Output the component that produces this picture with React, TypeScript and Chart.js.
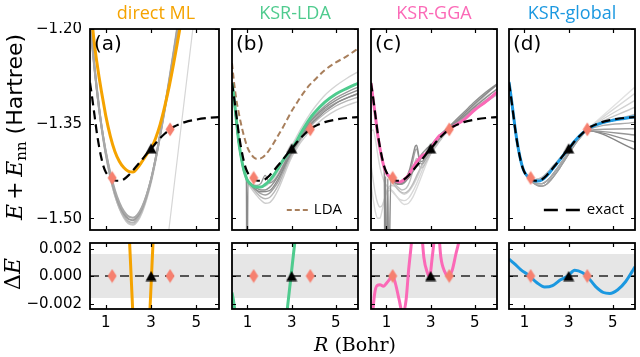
import React, { useEffect, useRef } from "react";
import { Chart, registerables } from "chart.js";
Chart.register(...registerables);

// ---------------- data ----------------
const R = [0.3, 0.4, 0.5, 0.6, 0.7, 0.8, 0.9, 1.0, 1.2, 1.4, 1.6, 1.8, 2.0, 2.2, 2.4, 2.6, 2.8, 3.0, 3.2, 3.4, 3.6, 3.8, 4.0, 4.5, 5.0, 5.5, 6.0];
const exactE = [-1.285, -1.31, -1.337, -1.364, -1.386, -1.404, -1.418, -1.427, -1.4355, -1.44, -1.4405, -1.438, -1.432, -1.424, -1.4155, -1.407, -1.398, -1.39, -1.381, -1.373, -1.366, -1.36, -1.355, -1.3475, -1.3435, -1.341, -1.3395];
const directMLE = [-1.13, -1.19, -1.225, -1.252, -1.276, -1.298, -1.318, -1.338, -1.37, -1.394, -1.41, -1.42, -1.4255, -1.4265, -1.42, -1.41, -1.399, -1.3895, -1.373, -1.351, -1.323, -1.291, -1.254, -1.15, -1.03, -0.9, -0.76];
const ksrLdaE = [-1.286, -1.312, -1.345, -1.377, -1.4, -1.418, -1.431, -1.44, -1.4475, -1.4505, -1.4505, -1.4465, -1.44, -1.431, -1.42, -1.4085, -1.3995, -1.39, -1.379, -1.366, -1.354, -1.343, -1.334, -1.316, -1.303, -1.294, -1.286];
const ldaE = [-1.254, -1.287, -1.313, -1.332, -1.349, -1.364, -1.377, -1.388, -1.4, -1.4055, -1.405, -1.4, -1.391, -1.38, -1.368, -1.356, -1.343, -1.33, -1.319, -1.308, -1.298, -1.289, -1.282, -1.265, -1.253, -1.243, -1.231];
const ksrGgaE = [-1.286, -1.312, -1.338, -1.367, -1.388, -1.406, -1.42, -1.4285, -1.4355, -1.4405, -1.4425, -1.4385, -1.4315, -1.419, -1.409, -1.401, -1.397, -1.39, -1.378, -1.369, -1.365, -1.36, -1.355, -1.344, -1.328, -1.315, -1.3];
const ksrGlobalE = [-1.2838, -1.309, -1.336, -1.3632, -1.3854, -1.4035, -1.4177, -1.4268, -1.4355, -1.4403, -1.441, -1.4388, -1.4328, -1.4248, -1.4161, -1.4073, -1.3981, -1.39, -1.3806, -1.3727, -1.3658, -1.36, -1.3555, -1.3487, -1.3447, -1.3417, -1.339];

// gray ensemble curves, panel (a)
const grayA1 = [-1.185, -1.225, -1.262, -1.295, -1.325, -1.352, -1.375, -1.396, -1.431, -1.459, -1.479, -1.493, -1.501, -1.503, -1.497, -1.484, -1.464, -1.438, -1.405, -1.367, -1.326, -1.283, -1.238, -1.12, -1.0, -0.87, -0.74];
const grayA2 = [-1.183, -1.223, -1.261, -1.295, -1.326, -1.354, -1.378, -1.399, -1.435, -1.463, -1.483, -1.497, -1.505, -1.507, -1.501, -1.487, -1.466, -1.439, -1.405, -1.366, -1.324, -1.28, -1.234, -1.115, -0.99, -0.86, -0.73];
const grayA3 = [-1.188, -1.228, -1.264, -1.297, -1.326, -1.352, -1.374, -1.394, -1.428, -1.455, -1.475, -1.489, -1.497, -1.499, -1.494, -1.482, -1.463, -1.438, -1.406, -1.369, -1.329, -1.287, -1.243, -1.125, -1.0, -0.87, -0.74];
const grayA4 = [-1.18, -1.22, -1.258, -1.292, -1.323, -1.351, -1.376, -1.398, -1.434, -1.462, -1.484, -1.499, -1.508, -1.51, -1.504, -1.49, -1.469, -1.442, -1.408, -1.369, -1.327, -1.283, -1.237, -1.118, -0.99, -0.86, -0.73];
const grayAfarR = [3.6, 4.2, 4.9];
const grayAfarE = [-1.574, -1.393, -1.183];

// panel (b)
const grayB1 = [-1.288, -1.316, -1.35, -1.38, -1.402, -1.419, -1.431, -1.439, -1.447, -1.452, -1.455, -1.455, -1.451, -1.443, -1.432, -1.419, -1.405, -1.392, -1.381, -1.37, -1.359, -1.349, -1.341, -1.325, -1.313, -1.304, -1.297];
const grayB2 = [-1.288, -1.316, -1.35, -1.38, -1.402, -1.419, -1.431, -1.44, -1.449, -1.456, -1.461, -1.463, -1.46, -1.452, -1.441, -1.426, -1.41, -1.396, -1.384, -1.373, -1.362, -1.352, -1.344, -1.328, -1.317, -1.309, -1.303];
const grayB3 = [-1.289, -1.317, -1.351, -1.381, -1.403, -1.42, -1.432, -1.441, -1.451, -1.459, -1.466, -1.469, -1.467, -1.459, -1.447, -1.431, -1.414, -1.399, -1.387, -1.376, -1.366, -1.357, -1.349, -1.334, -1.322, -1.314, -1.308];
const grayB4 = [-1.289, -1.318, -1.352, -1.382, -1.404, -1.421, -1.434, -1.443, -1.454, -1.463, -1.471, -1.476, -1.475, -1.467, -1.454, -1.437, -1.419, -1.403, -1.391, -1.38, -1.371, -1.362, -1.355, -1.34, -1.329, -1.321, -1.315];
const grayB5 = [-1.288, -1.316, -1.35, -1.38, -1.402, -1.419, -1.431, -1.439, -1.446, -1.448, -1.445, -1.432, -1.444, -1.44, -1.43, -1.417, -1.403, -1.39, -1.379, -1.368, -1.357, -1.347, -1.339, -1.322, -1.309, -1.3, -1.292];
const grayB6 = [-1.287, -1.315, -1.349, -1.379, -1.401, -1.418, -1.43, -1.438, -1.446, -1.45, -1.451, -1.449, -1.444, -1.436, -1.425, -1.412, -1.398, -1.385, -1.372, -1.359, -1.347, -1.336, -1.326, -1.305, -1.29, -1.278, -1.268];
const spikeBR = [0.3, 0.5, 0.7, 0.9, 0.95, 0.97, 0.99, 1.02, 1.2, 1.6, 2.0, 2.4, 2.8, 3.2, 3.6, 4.0, 5.0, 6.0];
const spikeBE = [-1.288, -1.35, -1.402, -1.431, -1.436, -1.6, -1.6, -1.441, -1.449, -1.458, -1.456, -1.437, -1.408, -1.384, -1.363, -1.346, -1.318, -1.302];

// panel (c)
const grayC1 = [-1.415, -1.44, -1.462, -1.476, -1.482, -1.48, -1.47, -1.458, -1.448, -1.45, -1.458, -1.462, -1.458, -1.448, -1.434, -1.418, -1.404, -1.392, -1.381, -1.371, -1.363, -1.357, -1.35, -1.336, -1.322, -1.308, -1.295];
const grayC2 = [-1.445, -1.47, -1.49, -1.5, -1.5, -1.488, -1.472, -1.46, -1.455, -1.462, -1.472, -1.478, -1.476, -1.466, -1.45, -1.432, -1.414, -1.398, -1.385, -1.374, -1.366, -1.359, -1.353, -1.34, -1.327, -1.314, -1.302];
const grayC3 = [-1.287, -1.313, -1.339, -1.368, -1.389, -1.407, -1.421, -1.43, -1.44, -1.449, -1.457, -1.46, -1.456, -1.445, -1.43, -1.415, -1.401, -1.39, -1.379, -1.369, -1.362, -1.356, -1.35, -1.336, -1.32, -1.304, -1.288];
const grayC4 = [-1.362, -1.36, -1.375, -1.398, -1.418, -1.432, -1.442, -1.448, -1.455, -1.463, -1.47, -1.472, -1.468, -1.457, -1.442, -1.425, -1.409, -1.395, -1.383, -1.373, -1.365, -1.358, -1.352, -1.339, -1.325, -1.312, -1.3];
const grayC5 = [-1.286, -1.312, -1.338, -1.367, -1.388, -1.406, -1.42, -1.4285, -1.437, -1.443, -1.446, -1.443, -1.435, -1.422, -1.409, -1.398, -1.39, -1.384, -1.376, -1.368, -1.362, -1.356, -1.349, -1.332, -1.315, -1.3, -1.287];
const bumpCR = [0.3, 0.5, 0.7, 0.9, 1.1, 1.3, 1.5, 1.7, 1.9, 2.05, 2.2, 2.3, 2.36, 2.42, 2.5, 2.6, 2.8, 3.0, 3.3, 3.6, 3.9, 4.5, 5.0, 6.0];
const bumpC1 = [-1.286, -1.338, -1.388, -1.42, -1.432, -1.439, -1.443, -1.442, -1.435, -1.422, -1.4, -1.386, -1.384, -1.392, -1.408, -1.41, -1.4, -1.39, -1.376, -1.364, -1.354, -1.338, -1.323, -1.295];
const bumpC2 = [-1.286, -1.338, -1.388, -1.42, -1.432, -1.44, -1.445, -1.446, -1.44, -1.428, -1.408, -1.393, -1.39, -1.396, -1.41, -1.414, -1.405, -1.394, -1.379, -1.366, -1.356, -1.34, -1.326, -1.3];
const bumpC3 = [-1.286, -1.338, -1.388, -1.42, -1.433, -1.442, -1.45, -1.455, -1.452, -1.442, -1.424, -1.41, -1.405, -1.408, -1.418, -1.42, -1.41, -1.398, -1.383, -1.369, -1.358, -1.342, -1.328, -1.304];
const spikeCR = [0.3, 0.5, 0.7, 0.85, 0.9, 0.93, 0.96, 1.0, 1.03, 1.06, 1.1, 1.2, 1.5, 2.0, 2.5, 3.0, 3.5, 4.0, 5.0, 6.0];
const spikeCE = [-1.286, -1.338, -1.388, -1.413, -1.425, -1.6, -1.433, -1.6, -1.6, -1.437, -1.6, -1.438, -1.446, -1.436, -1.408, -1.391, -1.369, -1.352, -1.318, -1.288];

// panel (d): left parts up to R = 3.8, then a fan out to R = 6
const fanR = [0.3, 0.4, 0.5, 0.6, 0.7, 0.8, 0.9, 1.0, 1.2, 1.4, 1.6, 1.8, 2.0, 2.2, 2.4, 2.6, 2.8, 3.0, 3.2, 3.4, 3.6, 3.8, 6.0];
const grayDLight = [-1.285, -1.31, -1.337, -1.364, -1.386, -1.404, -1.418, -1.427, -1.435, -1.439, -1.438, -1.435, -1.429, -1.421, -1.413, -1.405, -1.397, -1.389, -1.381, -1.373, -1.366, -1.36];
const grayDDark = [-1.285, -1.31, -1.337, -1.364, -1.386, -1.404, -1.418, -1.427, -1.436, -1.442, -1.445, -1.445, -1.441, -1.434, -1.425, -1.415, -1.405, -1.395, -1.385, -1.376, -1.368, -1.361];
const grayDDarker = [-1.285, -1.31, -1.337, -1.364, -1.386, -1.404, -1.418, -1.428, -1.437, -1.444, -1.448, -1.449, -1.446, -1.439, -1.43, -1.42, -1.409, -1.398, -1.387, -1.377, -1.369, -1.361];
const fanEndLight = [-1.292, -1.302, -1.313, -1.324, -1.335];
const fanEndDark = [-1.348, -1.358, -1.368, -1.379, -1.391];

// residuals (model - exact), Hartree
const zeroR = [0.3, 6.0];
const zeroE = [0, 0];
const directMLResR = [2.02, 2.22, 2.5, 2.92, 3.12];
const directMLResE = [0.0035, -0.0037, null, -0.0035, 0.0037];
const ksrLdaResR = [0.3, 0.36, 0.42, 0.48, 2.5, 2.76, 2.97, 3.18];
const ksrLdaResE = [-0.0012, -0.0017, -0.0024, -0.0032, null, -0.003, 0, 0.003];
const ksrGgaResR = [0.35, 0.4, 0.46, 0.57, 0.71, 0.86, 1.0, 1.14, 1.26, 1.4, 1.57, 1.74, 1.89, 2.0, 2.11, 2.2, 2.4, 2.58, 2.69, 2.86, 2.95, 3.07, 3.17, 3.25, 3.38, 3.46, 3.64, 3.79, 3.97, 4.14, 4.3, 4.5, 5.0, 6.0];
const ksrGgaResE = [-0.0035, -0.0023, -0.00134, -0.0007, -0.00064, -0.00075, -0.00052, -0.00024, 0.00007, -0.00052, -0.0017, -0.0028, -0.0017, 0.0004, 0.0021, 0.0036, 0.006, 0.0035, 0.00136, 0.0002, -0.00005, 0.00136, 0.0028, 0.004, 0.0028, 0.00136, 0.0003, 0.0, 0.0004, 0.0016, 0.0027, 0.005, 0.015, 0.04];
const ksrGlobalResR = [0.3, 0.54, 0.83, 1.23, 1.55, 1.91, 2.27, 2.63, 2.96, 3.27, 3.63, 3.85, 4.21, 4.57, 4.86, 5.22, 5.58, 5.86, 6.0];
const ksrGlobalResE = [0.00122, 0.0009, 0.00047, 0.0, -0.00047, -0.0008, -0.0007, -0.00028, 0.0, 0.00042, 0.00024, -0.00005, -0.00075, -0.0012, -0.00127, -0.001, -0.0004, 0.0003, 0.00068];

// markers
const trainR = [1.28, 3.84];
const trainE = [-1.436, -1.359];
const validR = [3.0];
const validE = [-1.389];

// axes
const xLim = [0.3, 6.0];
const topYLim = [-1.5185, -1.2];
const botYLim = [-0.0024, 0.0024];
const xTicks = [1, 3, 5];
const topYTicks = [-1.5, -1.35, -1.2];
const botYTicks = [-0.002, 0, 0.002];
const chemAcc = 0.0016;

const titles = ["direct ML", "KSR-LDA", "KSR-GGA", "KSR-global"];
const panelLabels = ["(a)", "(b)", "(c)", "(d)"];

// ---------------- styles ----------------
const C_ORANGE = "#f5a300";
const C_GREEN = "#4fcb8e";
const C_PINK = "#fb69b7";
const C_BLUE = "#1b98e0";
const C_SALMON = "#f6806f";
const C_BROWN = "#a87f5c";
const colColors = [C_ORANGE, C_GREEN, C_PINK, C_BLUE];

const FRAME_LEFT = [90, 229, 368, 506];
const FRAME_W = 132;
const ROW_TOP = [26, 240];
const ROW_H = [207, 69];

const pts = (xs: number[], ys: (number | null)[]) => xs.map((x, i) => ({ x, y: ys[i] }));

function makeMarker(kind: "diamond" | "triangle", color: string) {
  const c = document.createElement("canvas");
  if (kind === "diamond") {
    c.width = 10; c.height = 15;
    const g = c.getContext("2d")!;
    g.fillStyle = color;
    g.beginPath();
    g.moveTo(5, 0.5); g.lineTo(9.5, 7.5); g.lineTo(5, 14.5); g.lineTo(0.5, 7.5);
    g.closePath(); g.fill();
  } else {
    c.width = 12; c.height = 11;
    const g = c.getContext("2d")!;
    g.fillStyle = color;
    g.beginPath();
    g.moveTo(6, 0.5); g.lineTo(11.5, 10.5); g.lineTo(0.5, 10.5);
    g.closePath(); g.fill();
  }
  return c;
}

const line = (data: any[], color: string, width: number, order: number, extra: any = {}) => ({
  data, borderColor: color, borderWidth: width, pointRadius: 0, fill: false,
  cubicInterpolationMode: "monotone", clip: 0, order, spanGaps: false, ...extra,
});

const fmtMinus = (s: string) => s.replace("-", "\u2212");

type Legend = { text: string; color: string; dash: number[]; width: number; textRight: number; dashLen: number; gap: number };
type Spec = {
  col: number; row: number; datasets: any[];
  yLim: number[]; yTicks: number[]; yDigits: number;
  label?: string; band?: boolean; legend?: Legend;
};

function buildSpecs(): Spec[] {
  const diamond = makeMarker("diamond", C_SALMON);
  const tri = makeMarker("triangle", "#000");
  const topMarkers = (o: number) => [
    { data: pts(trainR, trainE), showLine: false, pointStyle: diamond, pointRadius: 6, order: o, clip: false },
    { data: pts(validR, validE), showLine: false, pointStyle: tri, pointRadius: 6, order: o, clip: false },
  ];
  const botMarkers = (o: number) => [
    { data: pts(trainR, trainR.map(() => 0)), showLine: false, pointStyle: diamond, pointRadius: 6, order: o, clip: false },
    { data: pts(validR, validR.map(() => 0)), showLine: false, pointStyle: tri, pointRadius: 6, order: o, clip: false },
  ];
  const exactLine = (o: number) => line(pts(R, exactE), "#000", 2.2, o, { borderDash: [9, 5] });
  const zeroLine = (o: number) => line(pts(zeroR, zeroE), "#555", 2, o, { borderDash: [9, 6], cubicInterpolationMode: "default", tension: 0 });

  const specs: Spec[] = [];
  specs.push({
    col: 0, row: 0, yLim: topYLim, yTicks: topYTicks, yDigits: 2, label: panelLabels[0],
    datasets: [
      ...topMarkers(0),
      exactLine(1),
      line(pts(R, directMLE), C_ORANGE, 3, 2),
      line(pts(R, grayA1), "#9c9c9c", 2, 5),
      line(pts(R, grayA2), "#b4b4b4", 2, 6),
      line(pts(R, grayA3), "#a8a8a8", 2, 4),
      line(pts(R, grayA4), "#c6c6c6", 2, 7),
      line(pts(grayAfarR, grayAfarE), "#d6d6d6", 1.2, 8, { cubicInterpolationMode: "default", tension: 0 }),
    ],
  });
  specs.push({
    col: 1, row: 0, yLim: topYLim, yTicks: topYTicks, yDigits: 2, label: panelLabels[1],
    legend: { text: "LDA", color: C_BROWN, dash: [5, 3], width: 2, textRight: 16, dashLen: 21, gap: 6 },
    datasets: [
      ...topMarkers(0),
      exactLine(1),
      line(pts(R, ksrLdaE), C_GREEN, 3, 2),
      line(pts(R, ldaE), C_BROWN, 2, 3, { borderDash: [6, 3.5] }),
      line(pts(R, grayB1), "#8e8e8e", 1.4, 5),
      line(pts(R, grayB2), "#a0a0a0", 1.4, 6),
      line(pts(R, grayB3), "#b6b6b6", 1.4, 7),
      line(pts(R, grayB4), "#cdcdcd", 1.4, 8),
      line(pts(R, grayB5), "#9a9a9a", 1.4, 6),
      line(pts(R, grayB6), "#d4d4d4", 1.4, 9),
      line(pts(spikeBR, spikeBE), "#8a8a8a", 1.4, 5),
    ],
  });
  specs.push({
    col: 2, row: 0, yLim: topYLim, yTicks: topYTicks, yDigits: 2, label: panelLabels[2],
    datasets: [
      ...topMarkers(0),
      exactLine(1),
      line(pts(R, ksrGgaE), C_PINK, 3, 2),
      line(pts(R, grayC1), "#d2d2d2", 1.4, 9),
      line(pts(R, grayC2), "#dadada", 1.4, 9),
      line(pts(R, grayC3), "#bdbdbd", 1.4, 8),
      line(pts(R, grayC4), "#d8d8d8", 1.4, 9),
      line(pts(R, grayC5), "#909090", 1.4, 6),
      line(pts(bumpCR, bumpC1), "#8c8c8c", 1.4, 5),
      line(pts(bumpCR, bumpC2), "#a4a4a4", 1.4, 6),
      line(pts(bumpCR, bumpC3), "#c0c0c0", 1.4, 7),
      line(pts(spikeCR, spikeCE), "#8a8a8a", 1.4, 5),
    ],
  });
  const fanSets: any[] = [];
  fanEndLight.forEach((v, i) => fanSets.push(line(pts(fanR, [...grayDLight, v]), ["#e2e2e2", "#dadada", "#d2d2d2", "#c8c8c8", "#bcbcbc"][i], 1.4, 9 - i)));
  fanEndDark.forEach((v, i) => fanSets.push(line(pts(fanR, [...(i % 2 ? grayDDarker : grayDDark), v]), ["#aaaaaa", "#a0a0a0", "#969696", "#8e8e8e", "#868686"][i], 1.4, 4)));
  specs.push({
    col: 3, row: 0, yLim: topYLim, yTicks: topYTicks, yDigits: 2, label: panelLabels[3],
    legend: { text: "exact", color: "#000", dash: [14, 8], width: 2.4, textRight: 11, dashLen: 36, gap: 7 },
    datasets: [...topMarkers(0), exactLine(1), line(pts(R, ksrGlobalE), C_BLUE, 3, 2), ...fanSets],
  });
  const resData = [
    [directMLResR, directMLResE, false],
    [ksrLdaResR, ksrLdaResE, false],
    [ksrGgaResR, ksrGgaResE, true],
    [ksrGlobalResR, ksrGlobalResE, true],
  ] as any[];
  resData.forEach(([rx, ry, smooth], col) => {
    specs.push({
      col, row: 1, yLim: botYLim, yTicks: botYTicks, yDigits: 3, band: true,
      datasets: [
        ...botMarkers(0),
        line(pts(rx, ry), colColors[col], 3, 1, smooth ? {} : { cubicInterpolationMode: "default", tension: 0 }),
        zeroLine(2),
      ],
    });
  });
  return specs;
}

function framePlugin(spec: Spec) {
  return {
    id: "frame",
    beforeDatasetsDraw(chart: any) {
      if (!spec.band) return;
      const { ctx, chartArea: a, scales } = chart;
      const y1 = scales.y.getPixelForValue(chemAcc);
      const y2 = scales.y.getPixelForValue(-chemAcc);
      ctx.save();
      ctx.fillStyle = "#e6e6e6";
      ctx.fillRect(a.left, y1, a.right - a.left, y2 - y1);
      ctx.restore();
    },
    afterDraw(chart: any) {
      const { ctx, chartArea: a, scales } = chart;
      ctx.save();
      ctx.strokeStyle = "#000";
      ctx.lineWidth = 1.2;
      const tl = 4;
      ctx.beginPath();
      xTicks.forEach((v) => {
        const px = Math.round(scales.x.getPixelForValue(v)) + 0.5;
        ctx.moveTo(px, a.bottom); ctx.lineTo(px, a.bottom - tl);
        ctx.moveTo(px, a.top); ctx.lineTo(px, a.top + tl);
      });
      spec.yTicks.forEach((v) => {
        const py = Math.round(scales.y.getPixelForValue(v)) + 0.5;
        ctx.moveTo(a.left, py); ctx.lineTo(a.left + tl, py);
        ctx.moveTo(a.right, py); ctx.lineTo(a.right - tl, py);
      });
      ctx.stroke();
      ctx.lineWidth = 1.8;
      ctx.strokeRect(a.left, a.top, a.right - a.left, a.bottom - a.top);
      // tick labels
      ctx.fillStyle = "#000";
      ctx.font = "15px 'DejaVu Sans'";
      if (spec.col === 0) {
        ctx.textAlign = "right";
        ctx.textBaseline = "middle";
        spec.yTicks.forEach((v) => {
          ctx.fillText(fmtMinus(v.toFixed(spec.yDigits)), a.left - 8, scales.y.getPixelForValue(v) + 0.5);
        });
      }
      if (spec.row === 1) {
        ctx.textAlign = "center";
        ctx.textBaseline = "top";
        xTicks.forEach((v) => {
          ctx.fillText(String(v), scales.x.getPixelForValue(v), a.bottom + 7);
        });
      }
      if (spec.label) {
        ctx.font = "20px 'DejaVu Sans'";
        ctx.textBaseline = "middle";
        ctx.textAlign = "left";
        ctx.fillText(spec.label, a.left + 4, a.top + 16);
      }
      if (spec.legend) {
        const lg = spec.legend;
        const yy = a.bottom - 20;
        const xEnd = a.right - lg.textRight;
        ctx.font = "15px 'Open Sans'";
        ctx.textBaseline = "middle";
        ctx.textAlign = "right";
        ctx.fillStyle = "#000";
        ctx.fillText(lg.text, xEnd, yy);
        const tw = ctx.measureText(lg.text).width;
        ctx.strokeStyle = lg.color;
        ctx.lineWidth = lg.width;
        ctx.setLineDash(lg.dash);
        ctx.beginPath();
        const lx2 = xEnd - tw - lg.gap;
        ctx.moveTo(lx2 - lg.dashLen, yy);
        ctx.lineTo(lx2, yy);
        ctx.stroke();
        ctx.setLineDash([]);
      }
      ctx.restore();
    },
  };
}

function Panel({ spec }: { spec: Spec }) {
  const ref = useRef<HTMLCanvasElement>(null);
  const padL = spec.col === 0 ? 80 : 4;
  const padR = 4;
  const padT = 4;
  const padB = spec.row === 1 ? 34 : 4;
  const w = FRAME_W + padL + padR;
  const h = ROW_H[spec.row] + padT + padB;
  useEffect(() => {
    const canvas = ref.current!;
    const chart = new Chart(canvas, {
      type: "line",
      data: { datasets: spec.datasets },
      options: {
        responsive: false,
        animation: false,
        events: [],
        layout: { padding: { top: padT, right: padR, left: padL, bottom: padB } },
        plugins: { legend: { display: false }, tooltip: { enabled: false }, title: { display: false } },
        scales: {
          x: { type: "linear", display: false, min: xLim[0], max: xLim[1] },
          y: { type: "linear", display: false, min: spec.yLim[0], max: spec.yLim[1] },
        },
      } as any,
      plugins: [framePlugin(spec)],
    });
    return () => chart.destroy();
  }, []);
  return (
    <canvas
      ref={ref}
      width={w}
      height={h}
      style={{ position: "absolute", left: FRAME_LEFT[spec.col] - padL, top: ROW_TOP[spec.row] - padT, width: w, height: h }}
    />
  );
}

function RotLabel({ cx, cy, children }: { cx: number; cy: number; children: React.ReactNode }) {
  const W = 260, H = 30;
  return (
    <div style={{
      position: "absolute", left: cx - W / 2, top: cy - H / 2, width: W, height: H,
      lineHeight: H + "px", textAlign: "center", transform: "rotate(-90deg)",
      whiteSpace: "nowrap", fontSize: 22, color: "#000",
    }}>{children}</div>
  );
}

export default function App() {
  const specs = React.useMemo(() => buildSpecs(), []);
  return (
    <div style={{ position: "absolute", left: 0, top: 0, width: 640, height: 357, background: "#fff", overflow: "hidden" }}>
      {specs.map((s, i) => <Panel key={i} spec={s} />)}
      {titles.map((t, i) => (
        <div key={t} style={{
          position: "absolute", left: FRAME_LEFT[i] + FRAME_W / 2 - 80, top: 2, width: 160, textAlign: "center",
          color: colColors[i], fontFamily: "'Open Sans'", fontSize: 18, whiteSpace: "nowrap", lineHeight: "20px",
        }}>{t}</div>
      ))}
      <RotLabel cx={15} cy={127}>
        <span style={{ fontFamily: "'DejaVu Serif'", fontStyle: "italic" }}>E</span>
        <span style={{ fontFamily: "'DejaVu Serif'" }}>{"\u2009+\u2009"}</span>
        <span style={{ fontFamily: "'DejaVu Serif'", fontStyle: "italic" }}>E</span>
        <span style={{ fontFamily: "'DejaVu Serif'", fontSize: 15, position: "relative", top: 4 }}>nn</span>
        <span style={{ fontFamily: "'DejaVu Sans'" }}>{" (Hartree)"}</span>
      </RotLabel>
      <RotLabel cx={13} cy={274}>
        <span style={{ fontFamily: "'DejaVu Serif'" }}>{"\u0394"}</span>
        <span style={{ fontFamily: "'DejaVu Serif'", fontStyle: "italic" }}>E</span>
      </RotLabel>
      <div style={{
        position: "absolute", left: 355 - 100, top: 334, width: 200, textAlign: "center",
        whiteSpace: "nowrap", fontSize: 19, lineHeight: "20px", color: "#000", fontFamily: "'DejaVu Serif'",
      }}>
        <span style={{ fontStyle: "italic" }}>R</span>{" (Bohr)"}
      </div>
    </div>
  );
}
